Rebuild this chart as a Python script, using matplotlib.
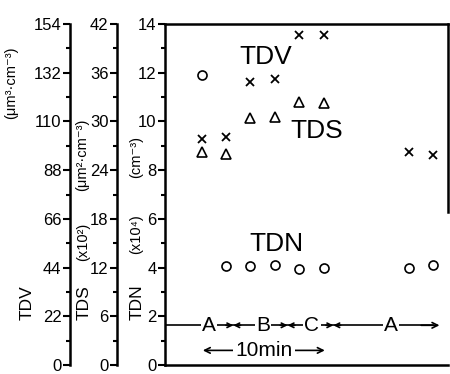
import matplotlib
matplotlib.use('Agg')
import matplotlib.pyplot as plt
from matplotlib.ticker import MultipleLocator

plt.rcParams['font.family'] = ['Liberation Sans', 'DejaVu Sans']

# sample times (min) and measured totals
t = [3, 5, 7, 9, 11, 13, 20, 22]
tdv = [102, 103, 128, 129, 149, 149, 96, 95]          # um^3 cm^-3
t_tds = [3, 5, 7, 9, 11, 13]
tds = [26.2, 26.0, 30.4, 30.5, 32.4, 32.3]             # x10^2 um^2 cm^-3
tdn = [11.9, 4.05, 4.05, 4.1, 3.95, 4.0, 4.0, 4.1]     # x10^4 cm^-3

# stage bar
stage_names = ['A', 'B', 'C', 'A']
stage_text_t = [3.6, 8.05, 12.05, 18.5]
stage_edges = [5.6, 10.05, 13.8]
stage_end = 22.5
bar_y = 1.63
ten_min = (3.1, 13.1)

lw = 1.8
fig = plt.figure(figsize=(4.5, 3.74), dpi=100)
ax = fig.add_axes([165/450, 1-365/374, 283/450, 341/374])
ax.set_xlim(0, 23.2)
ax.set_ylim(0, 14)

ax_v = ax.twinx()
ax_s = ax.twinx()
ax_v.set_ylim(0, 154)
ax_v.yaxis.set_major_locator(MultipleLocator(22))
ax_v.yaxis.set_minor_locator(MultipleLocator(11))
ax_s.set_ylim(0, 42)
ax_s.yaxis.set_major_locator(MultipleLocator(6))
ax_s.yaxis.set_minor_locator(MultipleLocator(3))
ax.yaxis.set_major_locator(MultipleLocator(2))
ax.yaxis.set_minor_locator(MultipleLocator(1))
ax.set_xticks([])

for a, pos in ((ax_v, -0.336), (ax_s, -0.17)):
    a.patch.set_visible(False)
    a.spines['right'].set_visible(False)
    a.spines['top'].set_visible(False)
    a.spines['bottom'].set_visible(False)
    a.spines['left'].set_visible(True)
    a.spines['left'].set_position(('axes', pos))
    a.yaxis.set_ticks_position('left')

for a in (ax, ax_v, ax_s):
    for s in a.spines.values():
        s.set_linewidth(lw)
    a.tick_params(axis='y', which='major', direction='out', length=5, width=1.5,
                  pad=1, labelsize=12)
    a.tick_params(axis='y', which='minor', direction='out', length=3, width=1.5)
ax.spines['right'].set_bounds(6.3, 14)

ax_v.plot(t, tdv, 'x', color='black', ms=6, mew=1.3)
ax_s.plot(t_tds, tds, '^', mfc='white', mec='black', ms=6.5, mew=1.2)
ax.plot(t, tdn, 'o', mfc='white', mec='black', ms=6.5, mew=1.2)

ax.text(8.25, 12.65, 'TDV', fontsize=19, ha='center', va='center')
ax.text(12.4, 9.6, 'TDS', fontsize=19, ha='center', va='center')
ax.text(9.15, 4.95, 'TDN', fontsize=19, ha='center', va='center')

# stage bar with arrows meeting at each boundary
ax.plot([0, stage_end - 0.5], [bar_y, bar_y], color='black', lw=1.2)
for e in stage_edges:
    for d in (-0.6, 0.6):
        ax.annotate('', xy=(e, bar_y), xytext=(e + d, bar_y),
                    arrowprops=dict(arrowstyle='->', lw=1.2, color='black',
                                    mutation_scale=8, shrinkA=0, shrinkB=0))
ax.annotate('', xy=(stage_end, bar_y), xytext=(stage_end - 1.5, bar_y),
            arrowprops=dict(arrowstyle='->', lw=1.2, color='black',
                            mutation_scale=10, shrinkA=0, shrinkB=0))
for name, x in zip(stage_names, stage_text_t):
    ax.text(x, bar_y, name, fontsize=15, ha='center', va='center',
            bbox=dict(boxstyle='square,pad=0.05', fc='white', ec='none'))

ax.annotate('', xy=(ten_min[0], 0.6), xytext=(ten_min[1], 0.6),
            arrowprops=dict(arrowstyle='<->', lw=1.2, color='black',
                            mutation_scale=10, shrinkA=0, shrinkB=0))
ax.text(sum(ten_min) / 2, 0.6, '10min', fontsize=15, ha='center', va='center',
        bbox=dict(boxstyle='square,pad=0.1', fc='white', ec='none'))

# axis labels pieces
name_lab = dict(rotation=90, ha='center', va='center', fontsize=12.5)
unit_lab = dict(rotation=90, ha='center', va='center', fontsize=10.5)
fig.text(27/450, 1-303/374, 'TDV', **name_lab)
fig.text(11/450, 1-83/374, '(μm³·cm⁻³)', **unit_lab)
fig.text(84/450, 1-303/374, 'TDS', **name_lab)
fig.text(83/450, 1-242/374, '(x10²)', **unit_lab)
fig.text(82/450, 1-155/374, '(μm²·cm⁻³)', **unit_lab)
fig.text(137/450, 1-302/374, 'TDN', **name_lab)
fig.text(136/450, 1-234/374, '(x10⁴)', **unit_lab)
fig.text(136/450, 1-157/374, '(cm⁻³)', **unit_lab)

fig.savefig('out.png', dpi=100)
